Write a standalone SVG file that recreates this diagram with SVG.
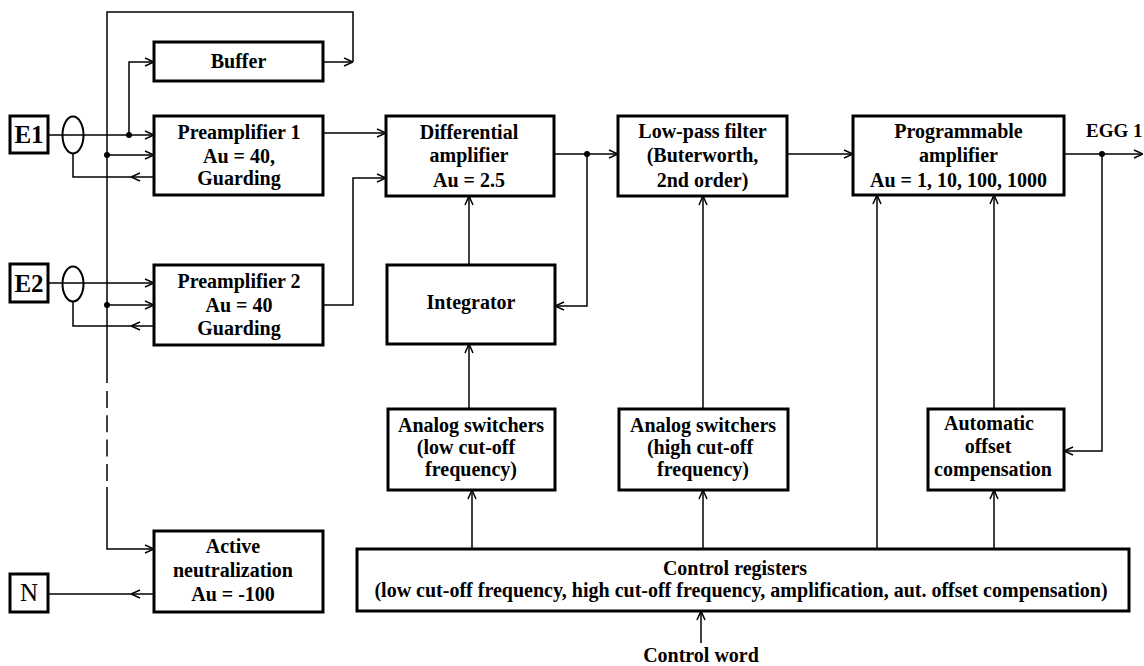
<svg xmlns="http://www.w3.org/2000/svg" width="1144" height="666" viewBox="0 0 1144 666">
<defs>
<marker id="arr" viewBox="0 0 10 10" refX="10" refY="5" markerWidth="10" markerHeight="10" markerUnits="userSpaceOnUse" orient="auto">
<path d="M1,1 L10,5 L1,9" fill="none" stroke="#000" stroke-width="1.5"/>
</marker>
<style>
.box{fill:#fff;stroke:#000;stroke-width:3}
.el{fill:none;stroke:#000;stroke-width:2}
.ln{fill:none;stroke:#000;stroke-width:1.5}
.ar{marker-end:url(#arr)}
.dot{fill:#000}
text{font-family:"Liberation Serif","Times New Roman",serif;font-weight:bold;font-size:20px;fill:#000;text-anchor:middle}
.big{font-size:25px}
.reg{font-weight:normal}
</style>
</defs>
<rect width="1144" height="666" fill="#fff"/>

<g id="connectors">
<path class="ln ar" d="M48,135 H154"/>
<path class="ln ar" d="M129,135 V62 H154"/>
<path class="ln ar" d="M323,62 H353"/>
<path class="ln" d="M353,62 V12 H107 V383"/>
<path class="ln" d="M107,391 V481" stroke-dasharray="17 7.3"/>
<path class="ln ar" d="M107,487 V549 H154"/>
<path class="ln ar" d="M107,155 H154"/>
<path class="ln ar" d="M154,177 H131"/>
<path class="ln" d="M131,177 H73 V153"/>
<path class="ln ar" d="M48,283 H154"/>
<path class="ln ar" d="M107,305 H154"/>
<path class="ln ar" d="M154,326 H131"/>
<path class="ln" d="M131,326 H73 V301"/>
<path class="ln ar" d="M154,594 H131"/>
<path class="ln" d="M131,594 H48"/>
<path class="ln ar" d="M323,133 H386"/>
<path class="ln ar" d="M323,305 H353 V178 H386"/>
<path class="ln ar" d="M554,154 H618"/>
<path class="ln ar" d="M587,154 V306 H555"/>
<path class="ln ar" d="M469,265 V196"/>
<path class="ln ar" d="M469,409 V344"/>
<path class="ln ar" d="M703,409 V196"/>
<path class="ln ar" d="M787,154 H853"/>
<path class="ln ar" d="M1064,154 H1143"/>
<path class="ln ar" d="M1102,154 V451 H1064"/>
<path class="ln ar" d="M994,409 V195"/>
<path class="ln ar" d="M877,549 V195"/>
<path class="ln ar" d="M472,549 V490"/>
<path class="ln ar" d="M703,549 V490"/>
<path class="ln ar" d="M994,549 V490"/>
<path class="ln ar" d="M701,643 V611"/>
<circle class="dot" cx="129" cy="135" r="3"/>
<circle class="dot" cx="107" cy="155" r="3"/>
<circle class="dot" cx="107" cy="305" r="3"/>
<circle class="dot" cx="587" cy="154" r="3"/>
<circle class="dot" cx="1102" cy="154" r="3"/>
</g>

<g id="E1"><rect class="box" x="10" y="116" width="38" height="37"/><text class="big" x="29" y="143">E1</text></g>
<g id="E2"><rect class="box" x="10" y="264" width="38" height="38"/><text class="big" x="29" y="292">E2</text></g>
<g id="N"><rect class="box" x="10" y="574" width="38" height="38"/><text class="big reg" x="29" y="601">N</text></g>
<g id="cable1"><ellipse class="el" cx="73" cy="135" rx="10.5" ry="18.5"/></g>
<g id="cable2"><ellipse class="el" cx="73" cy="284" rx="10.5" ry="17.5"/></g>

<g id="buffer"><rect class="box" x="154" y="42" width="169" height="39"/><text x="238.5" y="68">Buffer</text></g>
<g id="preamp1"><rect class="box" x="154" y="116" width="169" height="79"/>
<text x="239" y="139">Preamplifier 1</text><text x="239" y="163">Au = 40,</text><text x="239" y="185">Guarding</text></g>
<g id="preamp2"><rect class="box" x="154" y="265" width="169" height="80"/>
<text x="239" y="288">Preamplifier 2</text><text x="239" y="312">Au = 40</text><text x="239" y="335">Guarding</text></g>
<g id="neutralization"><rect class="box" x="154" y="531" width="169" height="81"/>
<text x="233" y="553">Active</text><text x="233" y="577">neutralization</text><text x="233" y="601">Au = -100</text></g>

<g id="diffamp"><rect class="box" x="386" y="116" width="168" height="80"/>
<text x="469" y="139">Differential</text><text x="469" y="162">amplifier</text><text x="469" y="187">Au = 2.5</text></g>
<g id="lpf"><rect class="box" x="618" y="116" width="169" height="80"/>
<text x="702.5" y="138">Low-pass filter</text><text x="702.5" y="162">(Buterworth,</text><text x="702.5" y="187">2nd order)</text></g>
<g id="progamp"><rect class="box" x="853" y="116" width="211" height="79"/>
<text x="958.5" y="138">Programmable</text><text x="958.5" y="162">amplifier</text><text x="958.5" y="187">Au = 1, 10, 100, 1000</text></g>
<g id="egg1"><text x="1086" y="137" style="text-anchor:start;font-size:19px">EGG 1</text></g>

<g id="integrator"><rect class="box" x="387" y="265" width="168" height="79"/><text x="471" y="309">Integrator</text></g>
<g id="switch-low"><rect class="box" x="388" y="409" width="167" height="81"/>
<text x="471" y="432">Analog switchers</text><text x="466" y="454">(low cut-off</text><text x="471" y="476">frequency)</text></g>
<g id="switch-high"><rect class="box" x="619" y="409" width="169" height="81"/>
<text x="703" y="432">Analog switchers</text><text x="700" y="454">(high cut-off</text><text x="703" y="476">frequency)</text></g>
<g id="offset"><rect class="box" x="928" y="409" width="136" height="81"/>
<text x="989" y="430">Automatic</text><text x="988" y="453">offset</text><text x="993" y="476">compensation</text></g>

<g id="control"><rect class="box" x="357" y="549" width="772" height="62"/>
<text x="735" y="575">Control registers</text>
<text x="741" y="597">(low cut-off frequency, high cut-off frequency, amplification, aut. offset compensation)</text></g>
<g id="controlword"><text x="701" y="662">Control word</text></g>
</svg>
